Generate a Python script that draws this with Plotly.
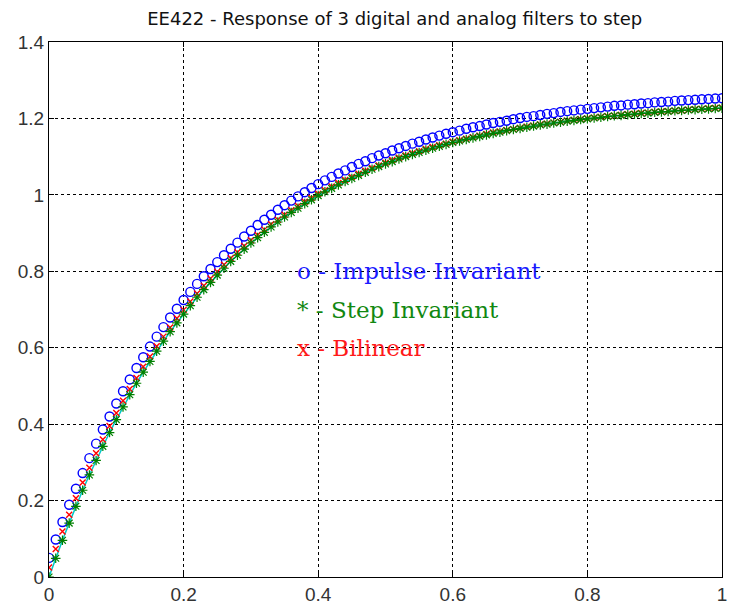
import plotly.graph_objects as go

# sample times (T = 0.01)
t = [round(i * 0.01, 2) for i in range(101)]

impulse_inv = [
    0.050, 0.098, 0.144, 0.189, 0.231, 0.272, 0.311, 0.349, 0.386, 0.420,
    0.454, 0.486, 0.517, 0.547, 0.575, 0.603, 0.629, 0.654, 0.679, 0.702,
    0.725, 0.746, 0.767, 0.787, 0.806, 0.824, 0.842, 0.859, 0.875, 0.891,
    0.906, 0.921, 0.935, 0.948, 0.961, 0.973, 0.985, 0.996, 1.007, 1.018,
    1.028, 1.038, 1.047, 1.056, 1.064, 1.073, 1.081, 1.088, 1.096, 1.103,
    1.109, 1.116, 1.122, 1.128, 1.134, 1.139, 1.145, 1.150, 1.155, 1.160,
    1.164, 1.168, 1.173, 1.177, 1.180, 1.184, 1.188, 1.191, 1.194, 1.198,
    1.201, 1.204, 1.206, 1.209, 1.212, 1.214, 1.217, 1.219, 1.221, 1.223,
    1.225, 1.227, 1.229, 1.231, 1.233, 1.234, 1.236, 1.237, 1.239, 1.240,
    1.242, 1.243, 1.244, 1.246, 1.247, 1.248, 1.249, 1.250, 1.251, 1.252,
    1.253,
]

step_inv = [
    0.000, 0.049, 0.096, 0.141, 0.185, 0.227, 0.267, 0.305, 0.342, 0.378,
    0.412, 0.445, 0.477, 0.507, 0.536, 0.564, 0.591, 0.617, 0.642, 0.665,
    0.688, 0.710, 0.732, 0.752, 0.771, 0.790, 0.808, 0.826, 0.842, 0.858,
    0.874, 0.888, 0.902, 0.916, 0.929, 0.942, 0.954, 0.965, 0.977, 0.987,
    0.998, 1.008, 1.017, 1.026, 1.035, 1.043, 1.051, 1.059, 1.067, 1.074,
    1.081, 1.087, 1.094, 1.100, 1.106, 1.111, 1.117, 1.122, 1.127, 1.132,
    1.137, 1.141, 1.145, 1.149, 1.153, 1.157, 1.161, 1.164, 1.168, 1.171,
    1.174, 1.177, 1.180, 1.183, 1.185, 1.188, 1.190, 1.193, 1.195, 1.197,
    1.199, 1.201, 1.203, 1.205, 1.207, 1.208, 1.210, 1.211, 1.213, 1.214,
    1.216, 1.217, 1.218, 1.220, 1.221, 1.222, 1.223, 1.224, 1.225, 1.226,
    1.227,
]

bilinear = [
    0.025, 0.073, 0.119, 0.163, 0.206, 0.247, 0.286, 0.324, 0.360, 0.395,
    0.429, 0.461, 0.492, 0.521, 0.550, 0.577, 0.604, 0.629, 0.653, 0.677,
    0.699, 0.721, 0.742, 0.762, 0.781, 0.799, 0.817, 0.834, 0.850, 0.866,
    0.881, 0.895, 0.909, 0.923, 0.935, 0.948, 0.960, 0.971, 0.982, 0.992,
    1.003, 1.012, 1.022, 1.031, 1.039, 1.047, 1.055, 1.063, 1.070, 1.077,
    1.084, 1.091, 1.097, 1.103, 1.109, 1.114, 1.120, 1.125, 1.130, 1.134,
    1.139, 1.143, 1.147, 1.151, 1.155, 1.159, 1.163, 1.166, 1.169, 1.172,
    1.175, 1.178, 1.181, 1.184, 1.186, 1.189, 1.191, 1.194, 1.196, 1.198,
    1.200, 1.202, 1.204, 1.206, 1.207, 1.209, 1.211, 1.212, 1.214, 1.215,
    1.217, 1.218, 1.219, 1.220, 1.221, 1.223, 1.224, 1.225, 1.226, 1.227,
    1.228,
]

# analog response coincides with the step-invariant samples
analog = step_inv

x_ticks = [0, 0.2, 0.4, 0.6, 0.8, 1]
x_labels = ["0", "0.2", "0.4", "0.6", "0.8", "1"]
y_ticks = [0, 0.2, 0.4, 0.6, 0.8, 1, 1.2, 1.4]
y_labels = ["0", "0.2", "0.4", "0.6", "0.8", "1", "1.2", "1.4"]

title_text = "EE422 - Response of 3 digital and analog filters to step"
notes = ["o - Impulse Invariant", "* - Step Invariant", "x - Bilinear"]
note_y = [0.80, 0.70, 0.60]
note_colors = ["#1a1aff", "#118811", "#ff1a1a"]

fig = go.Figure()
fig.add_trace(go.Scatter(x=t, y=analog, mode="lines",
                         line=dict(color="#00c8c8", width=1.5), showlegend=False))
fig.add_trace(go.Scatter(x=t, y=impulse_inv, mode="markers",
                         marker=dict(symbol="circle-open", size=9, color="#0000ff",
                                     line=dict(width=1.4, color="#0000ff")),
                         showlegend=False))
fig.add_trace(go.Scatter(x=t, y=bilinear, mode="markers",
                         marker=dict(symbol="x-thin-open", size=6, color="#ff0000",
                                     line=dict(width=1.4, color="#ff0000")),
                         showlegend=False))
fig.add_trace(go.Scatter(x=t, y=step_inv, mode="markers",
                         marker=dict(symbol="asterisk-open", size=8, color="#008000",
                                     line=dict(width=1.2, color="#008000")),
                         showlegend=False))

for txt, yy, col in zip(notes, note_y, note_colors):
    fig.add_annotation(x=0.365, y=yy, xref="x", yref="y", text=txt,
                       showarrow=False, xanchor="left", yanchor="middle",
                       font=dict(family="DejaVu Serif", size=23, color=col))

axis_common = dict(
    showline=True, linecolor="black", linewidth=1, mirror="ticks",
    ticks="inside", ticklen=5, tickcolor="black",
    showgrid=True, gridcolor="black", griddash="dot", gridwidth=1,
    zeroline=False, ticklabeloverflow="allow",
    tickfont=dict(family="Liberation Sans", size=19, color="#333333"),
)

fig.update_xaxes(range=[0, 1], tickvals=x_ticks, ticktext=x_labels, **axis_common)
fig.update_yaxes(range=[0, 1.4], tickvals=y_ticks, ticktext=y_labels, **axis_common)

fig.update_layout(
    width=731, height=611,
    margin=dict(l=49, r=4, t=42, b=34),
    plot_bgcolor="white", paper_bgcolor="white",
    title=dict(text=title_text, x=0.54, xanchor="center", y=0.97, yanchor="middle",
               font=dict(family="DejaVu Sans", size=18, color="#111111")),
    showlegend=False,
)

fig.write_html("out.html")
